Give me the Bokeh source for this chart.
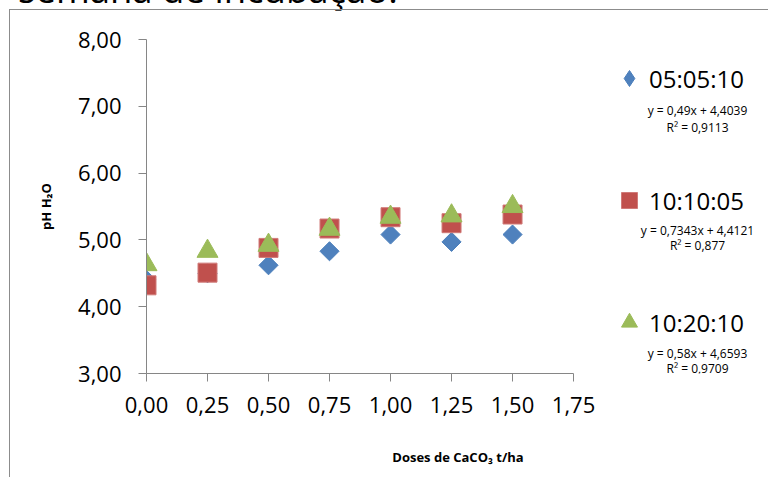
from bokeh.plotting import figure
from bokeh.models import Legend, LegendItem, Label, Div, FixedTicker, Range1d
from bokeh.layouts import column
from bokeh.embed import file_html
from bokeh.resources import INLINE

# ---- data ----
doses = [0.0, 0.25, 0.50, 0.75, 1.00, 1.25, 1.50]
ph_050510 = [4.40, 4.50, 4.62, 4.83, 5.08, 4.97, 5.08]
ph_101005 = [4.32, 4.51, 4.88, 5.17, 5.34, 5.25, 5.38]
ph_102010 = [4.63, 4.83, 4.92, 5.16, 5.34, 5.36, 5.50]
series_names = ["05:05:10", "10:10:05", "10:20:10"]
equations = ["y = 0,49x + 4,4039", "y = 0,7343x + 4,4121", "y = 0,58x + 4,6593"]
r_squared = ["R² = 0,9113", "R² = 0,877", "R² = 0,9709"]
x_ticks = [0.0, 0.25, 0.50, 0.75, 1.00, 1.25, 1.50, 1.75]
x_tick_labels = ["0,00", "0,25", "0,50", "0,75", "1,00", "1,25", "1,50", "1,75"]
y_ticks = [3, 4, 5, 6, 7, 8]
y_tick_labels = ["3,00", "4,00", "5,00", "6,00", "7,00", "8,00"]
caption_tail = "semana de incubação."

# equation label positions (annotation placement, data units)
eq_x = 2.258
eq_y = [(6.94, 6.69), (5.14, 4.92), (3.30, 3.08)]

BLUE, RED, GREEN = "#4F81BD", "#C0504D", "#9BBB59"
AXIS_GREY = "#868686"
FONT = "Open Sans"

p = figure(width=759, height=468, x_range=Range1d(0, 2.553), y_range=Range1d(3, 8),
           output_backend="svg", toolbar_location=None,
           min_border_left=136, min_border_right=0, min_border_top=29, min_border_bottom=105,
           margin=(0, 0, 0, 9))
p.styles = {"border-left": "1px solid #8c8c8c", "border-top": "1px solid #8c8c8c"}
p.outline_line_color = None
p.grid.visible = False

# legend key for the diamond series (legend keys are drawn unrotated); tiny, hidden under r1
r1_key = p.scatter(doses, ph_050510, marker="diamond", size=1,
                   fill_color=BLUE, line_color="#4A7EBB")
r1 = p.scatter(doses, ph_050510, marker="square", angle=0.7854, size=13.5,
               fill_color=BLUE, line_color="#4A7EBB")
r2 = p.scatter(doses, ph_101005, marker="square", size=19,
               fill_color=RED, line_color="#D07A78", line_width=1)
r3 = p.scatter(doses, ph_102010, marker="triangle", size=21,
               fill_color=GREEN, line_color=GREEN)

for ax in (p.xaxis[0], p.yaxis[0]):
    ax.axis_line_color = AXIS_GREY
    ax.major_tick_line_color = AXIS_GREY
    ax.major_tick_out = 8
    ax.major_tick_in = 0
    ax.minor_tick_line_color = None
    ax.major_label_text_font = FONT
    ax.major_label_text_font_size = "22px"
    ax.major_label_text_color = "black"
    ax.axis_label_text_font = FONT
    ax.axis_label_text_font_size = "13px"
    ax.axis_label_text_font_style = "bold"
    ax.axis_label_text_color = "black"

p.xaxis.bounds = (0, 1.75)
p.xaxis.ticker = FixedTicker(ticks=x_ticks)
p.xaxis.major_label_overrides = dict(zip(x_ticks, x_tick_labels))
p.yaxis.ticker = FixedTicker(ticks=y_ticks)
p.yaxis.major_label_overrides = dict(zip(y_ticks, y_tick_labels))
p.xaxis.axis_label = "Doses de CaCO₃ t/ha"
p.yaxis.axis_label = "pH H₂O"
p.xaxis.major_label_standoff = 15
p.yaxis.major_label_standoff = 17
p.xaxis.axis_label_standoff = 32
p.yaxis.axis_label_standoff = 20

legend = Legend(items=[LegendItem(label=n, renderers=[r])
                       for n, r in zip(series_names, [r1_key, r2, r3])],
                location=(463, 31), orientation="vertical",
                border_line_color=None, background_fill_alpha=0,
                label_text_font=FONT, label_text_font_size="24px", label_text_color="black",
                glyph_width=40, glyph_height=40, label_standoff=0,
                spacing=82, padding=0, margin=0, label_height=22)
p.add_layout(legend, "center")

for eq, r2t, (ya, yb) in zip(equations, r_squared, eq_y):
    p.add_layout(Label(x=eq_x, y=ya, text=eq, text_align="center", text_baseline="middle",
                       text_font=FONT, text_font_size="12px", text_color="black"))
    p.add_layout(Label(x=eq_x, y=yb, text=r2t, text_align="center", text_baseline="middle",
                       text_font=FONT, text_font_size="12px", text_color="black"))

top_text = Div(
    text=('<div style="position:relative; top:-29px; font-size:36.5px; line-height:36px; '
          f'font-family:\'{FONT}\'; color:black; white-space:nowrap;">{caption_tail}</div>'),
    width=500, height=9, margin=(0, 0, 0, 18), styles={"overflow": "visible"})

layout = column(top_text, p, spacing=0)
open("out.html", "w").write(file_html(layout, INLINE))
